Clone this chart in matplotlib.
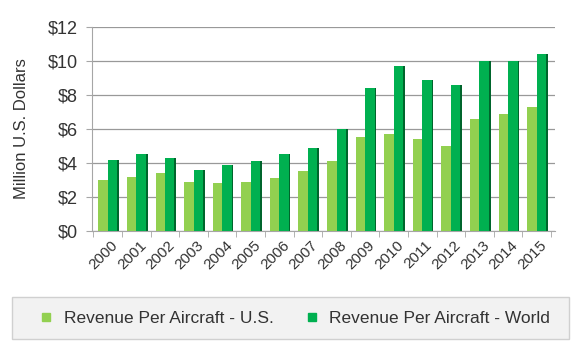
import matplotlib.pyplot as plt
import numpy as np
from matplotlib.patches import Rectangle

plt.rcParams['font.family'] = ['Liberation Sans', 'DejaVu Sans']

years = ['2000', '2001', '2002', '2003', '2004', '2005', '2006', '2007',
         '2008', '2009', '2010', '2011', '2012', '2013', '2014', '2015']
rev_us = [3.0, 3.2, 3.4, 2.9, 2.8, 2.9, 3.1, 3.5, 4.1, 5.5, 5.7, 5.4, 5.0, 6.6, 6.9, 7.3]
rev_world = [4.2, 4.5, 4.3, 3.6, 3.9, 4.1, 4.5, 4.9, 6.0, 8.4, 9.7, 8.9, 8.6, 10.0, 10.0, 10.4]
y_ticks = [0, 2, 4, 6, 8, 10, 12]
y_labels = ['$0', '$2', '$4', '$6', '$8', '$10', '$12']

c_us, c_us_side = '#92d050', '#5f9a2c'
c_world, c_world_side = '#00b050', '#00652c'

fig = plt.figure(figsize=(5.79, 3.51), dpi=100)
ax = fig.add_axes([0.159, 0.342, 0.80, 0.581])

x = np.arange(len(years))
w = 0.33
# darker side faces for a little depth
ax.bar(x - w / 2 + 0.06, rev_us, w, color=c_us_side, zorder=2)
ax.bar(x - w / 2, rev_us, w, color=c_us, zorder=3)
ax.bar(x + w / 2 + 0.06, rev_world, w, color=c_world_side, zorder=2)
ax.bar(x + w / 2, rev_world, w, color=c_world, zorder=3)

ax.set_xlim(-0.55, len(years) - 0.35)
ax.set_ylim(0, 12)
ax.set_yticks(y_ticks)
ax.set_yticklabels(y_labels, fontsize=13, color='#333333')
ax.set_ylabel('Million U.S. Dollars', fontsize=12, color='#333333', labelpad=14)

ax.set_xticks(x + 0.1)
ax.set_xticklabels(years, rotation=45, ha='right', rotation_mode='anchor',
                   fontsize=11, color='#333333')
ax.tick_params(axis='x', length=0, pad=5)
ax.set_xticks(np.arange(len(years) + 1) - 0.5, minor=True)
ax.tick_params(axis='x', which='minor', length=4, color='#a6a6a6')
ax.tick_params(axis='y', length=4, color='#a6a6a6', pad=6)

ax.grid(axis='y', color='#999999', linewidth=0.9, zorder=0)
ax.set_axisbelow(True)
for s in ['top', 'right']:
    ax.spines[s].set_visible(False)
for s in ['left', 'bottom']:
    ax.spines[s].set_color('#a6a6a6')

# legend box
fig.patches.append(Rectangle((12 / 579, 12 / 351), 557 / 579, 42 / 351,
                             transform=fig.transFigure, facecolor='#f2f2f2',
                             edgecolor='#d0d0d0', linewidth=1, zorder=0))
h1 = plt.Line2D([], [], marker='s', linestyle='', color=c_us, markersize=6)
h2 = plt.Line2D([], [], marker='s', linestyle='', color=c_world, markersize=6)
fig.legend([h1, h2], ['Revenue Per Aircraft - U.S.', 'Revenue Per Aircraft - World'],
           loc='center', bbox_to_anchor=(0.5, 33 / 351), ncol=2, frameon=False,
           fontsize=12.5, handletextpad=0.0, columnspacing=1.2,
           labelcolor='#333333')

fig.savefig('out.png', dpi=100)
